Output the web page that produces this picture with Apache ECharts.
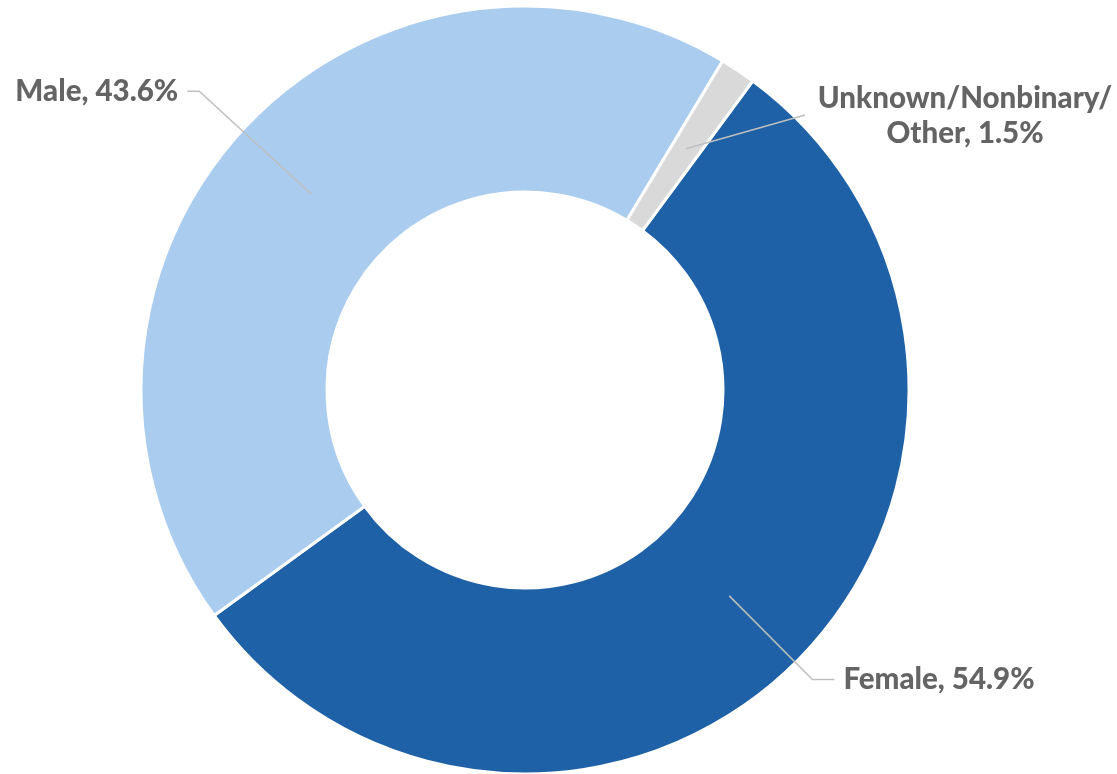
<!DOCTYPE html>
<html>
<head>
<meta charset="utf-8">
<script src="https://cdn.jsdelivr.net/npm/echarts@6/dist/echarts.min.js"></script>
<style>
html,body{margin:0;padding:0;background:#fff;}
#chart{width:1117px;height:774px;}
</style>
</head>
<body>
<div id="chart"></div>
<script>
const categories = ['Female', 'Male', 'Unknown/Nonbinary/\nOther'];
const percentValues = [54.9, 43.6, 1.5];
const sliceColors = ['#1F61A7', '#A9CCEF', '#D9D9D9'];

const FONT = 'Lato';
const labelStyle = {
  fontFamily: FONT, fontWeight: 900, fontSize: 29.5, color: '#646464', lineHeight: 35
};
const lineSettings = [
  { length: 118, length2: 22 },
  { length: 152, length2: 12 },
  { length: 20, length2: 10 }
];

const chart = echarts.init(document.getElementById('chart'), null, { renderer: 'canvas' });
const center = [525, 390];
const startAngle = 53.6;

const ringData = categories.map((c, i) => ({
  name: c, value: percentValues[i], itemStyle: { color: sliceColors[i] }
}));
const labelData = categories.map((c, i) => ({
  name: c, value: percentValues[i],
  labelLine: { length: lineSettings[i].length, length2: lineSettings[i].length2 }
}));

chart.setOption({
  animation: false,
  series: [
    {
      type: 'pie',
      center: center,
      radius: [198, 384],
      startAngle: startAngle,
      clockwise: true,
      silent: true,
      label: { show: false },
      labelLine: { show: false },
      itemStyle: { borderColor: '#ffffff', borderWidth: 3 },
      data: ringData
    },
    {
      type: 'pie',
      center: center,
      radius: [0, 290],
      startAngle: startAngle,
      clockwise: true,
      silent: true,
      z: 5,
      itemStyle: { color: 'rgba(0,0,0,0)' },
      label: {
        show: true,
        position: 'outside',
        alignTo: 'none',
        distanceToLabelLine: 9,
        formatter: p => p.name + ', ' + p.value.toFixed(1) + '%',
        ...labelStyle
      },
      labelLine: {
        show: true,
        smooth: false,
        lineStyle: { color: '#BFBFBF', width: 1.5 }
      },
      labelLayout: function (params) {
        if (params.dataIndex === 2) {
          const p0 = params.labelLinePoints[0];
          return {
            x: 965, y: 116, align: 'center', verticalAlign: 'middle',
            labelLinePoints: [p0, [805, 115], [805, 115]]
          };
        }
        return {};
      },
      data: labelData
    }
  ]
});
</script>
</body>
</html>
